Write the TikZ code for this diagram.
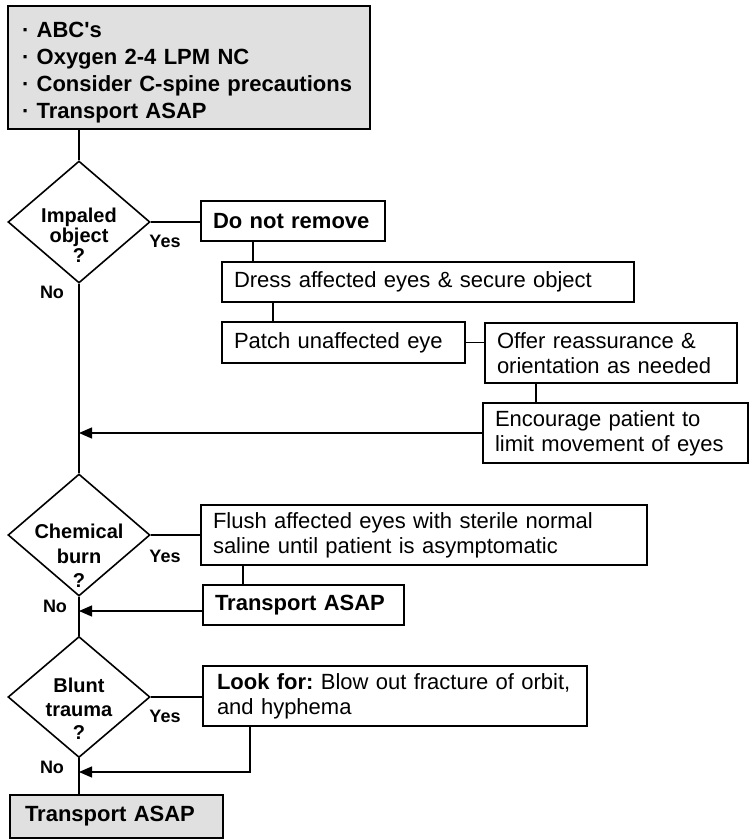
\documentclass[tikz,border=0pt]{standalone}
\usepackage{fontspec}
\setmainfont{Liberation Sans}
\usetikzlibrary{shapes.geometric,arrows.meta}
\definecolor{boxgrey}{RGB}{224,224,224}
\tikzset{
  box/.style={draw, line width=1.3pt, inner xsep=12pt, inner ysep=0pt, align=left,
    font=\fontsize{22}{25}\selectfont\frenchspacing},
  boldbox/.style={box, font=\bfseries\fontsize{22}{25}\selectfont},
  hibox/.style={box, line width=2.6pt, fill=boxgrey, font=\bfseries\fontsize{22}{27}\selectfont},
  dec/.style={draw, diamond, line width=1.6pt, minimum width=142pt, minimum height=122pt, inner sep=0pt},
  q/.style={inner sep=0pt, align=center, font=\bfseries\fontsize{20}{#1}\selectfont},
  yn/.style={inner sep=0pt, anchor=base, font=\bfseries\fontsize{18}{18}\selectfont},
  tip/.style={-{Triangle[length=13pt,width=11pt]}}
}
\begin{document}
\begin{tikzpicture}[x=1pt,y=-1pt]
  \useasboundingbox (0,0) rectangle (752,840);
  \node[hibox, inner xsep=14pt, text width=334pt, minimum height=123pt] (abc) at (189,67.5)
    {\rule{0pt}{26pt}· ABC\textquotesingle s\\· Oxygen 2-4 LPM NC\\· Consider C-spine precautions\\· Transport ASAP};
  % impaled object
  \node[dec] (impaled) at (79,222) {};
  \node[q=20, anchor=north] (impaledq) at (79,208) {Impaled\\object\\?};
  \node[yn] (yes1) at (165,247) {Yes};
  \node[yn] (no1) at (52,298) {No};
  \node[boldbox, text width=160pt, minimum height=40pt] (noremove) at (293,221) {Do not remove};
  \node[box, text width=388pt, minimum height=40pt] (dress) at (428,282) {Dress affected eyes \& secure object};
  \node[box, text width=219pt, minimum height=41pt] (patch) at (343.5,342.5) {Patch unaffected eye};
  \node[box, text width=228pt, minimum height=60pt] (reassure) at (611,353) {Offer reassurance \&\\orientation as needed};
  \node[box, text width=241pt, minimum height=60pt] (limit) at (615.5,433) {Encourage patient to\\limit movement of eyes};
  % chemical burn
  \node[dec] (chemical) at (79,535) {};
  \node[q=24.5, anchor=north] (chemicalq) at (79,524) {Chemical\\burn\\?};
  \node[yn] (yes2) at (165,562) {Yes};
  \node[yn] (no2) at (55,612) {No};
  \node[box, text width=422pt, minimum height=60pt] (flush) at (424,535)
    {Flush affected eyes with sterile normal\\saline until patient is asymptomatic};
  \node[boldbox, text width=177pt, minimum height=40pt] (transport) at (303.5,605) {Transport ASAP};
  % blunt trauma
  \node[dec, minimum height=121pt] (blunt) at (79,697) {};
  \node[q=23.5, anchor=north] (bluntq) at (79,678) {Blunt\\trauma\\?};
  \node[yn] (yes3) at (165,722) {Yes};
  \node[yn] (no3) at (52,773) {No};
  \node[box, inner xsep=14pt, text width=356pt, minimum height=60pt] (lookfor) at (395,696)
    {\textbf{Look for:} Blow out fracture of orbit,\\and hyphema};
  \node[hibox, inner xsep=15pt, text width=183pt, minimum height=43pt] (final) at (116.5,816.5) {Transport ASAP};
  \begin{scope}[line width=1.3pt]
    \draw (abc.south -| impaled.north) -- (impaled.north);
    \draw (impaled.east) -- (noremove.west |- impaled.east);
    \draw (noremove.south -| 253,0) -- (dress.north -| 253,0);
    \draw (dress.south -| 273,0) -- (patch.north -| 273,0);
    \draw (patch.east) -- (patch.east -| reassure.west);
    \draw (reassure.south -| 536,0) -- (limit.north -| 536,0);
    \draw[tip] (limit.west) -- (limit.west -| impaled.south);
    \draw (impaled.south) -- (chemical.north);
    \draw (chemical.east) -- (flush.west |- chemical.east);
    \draw (flush.south -| 243,0) -- (transport.north -| 243,0);
    \draw[tip] (transport.west |- 0,611) -- (chemical.south |- 0,611);
    \draw (chemical.south) -- (blunt.north);
    \draw (blunt.east) -- (lookfor.west |- blunt.east);
    \draw[tip] (lookfor.south -| 250,0) |- (blunt.south |- 0,772);
    \draw (blunt.south) -- (final.north -| blunt.south);
  \end{scope}
\end{tikzpicture}
\end{document}
